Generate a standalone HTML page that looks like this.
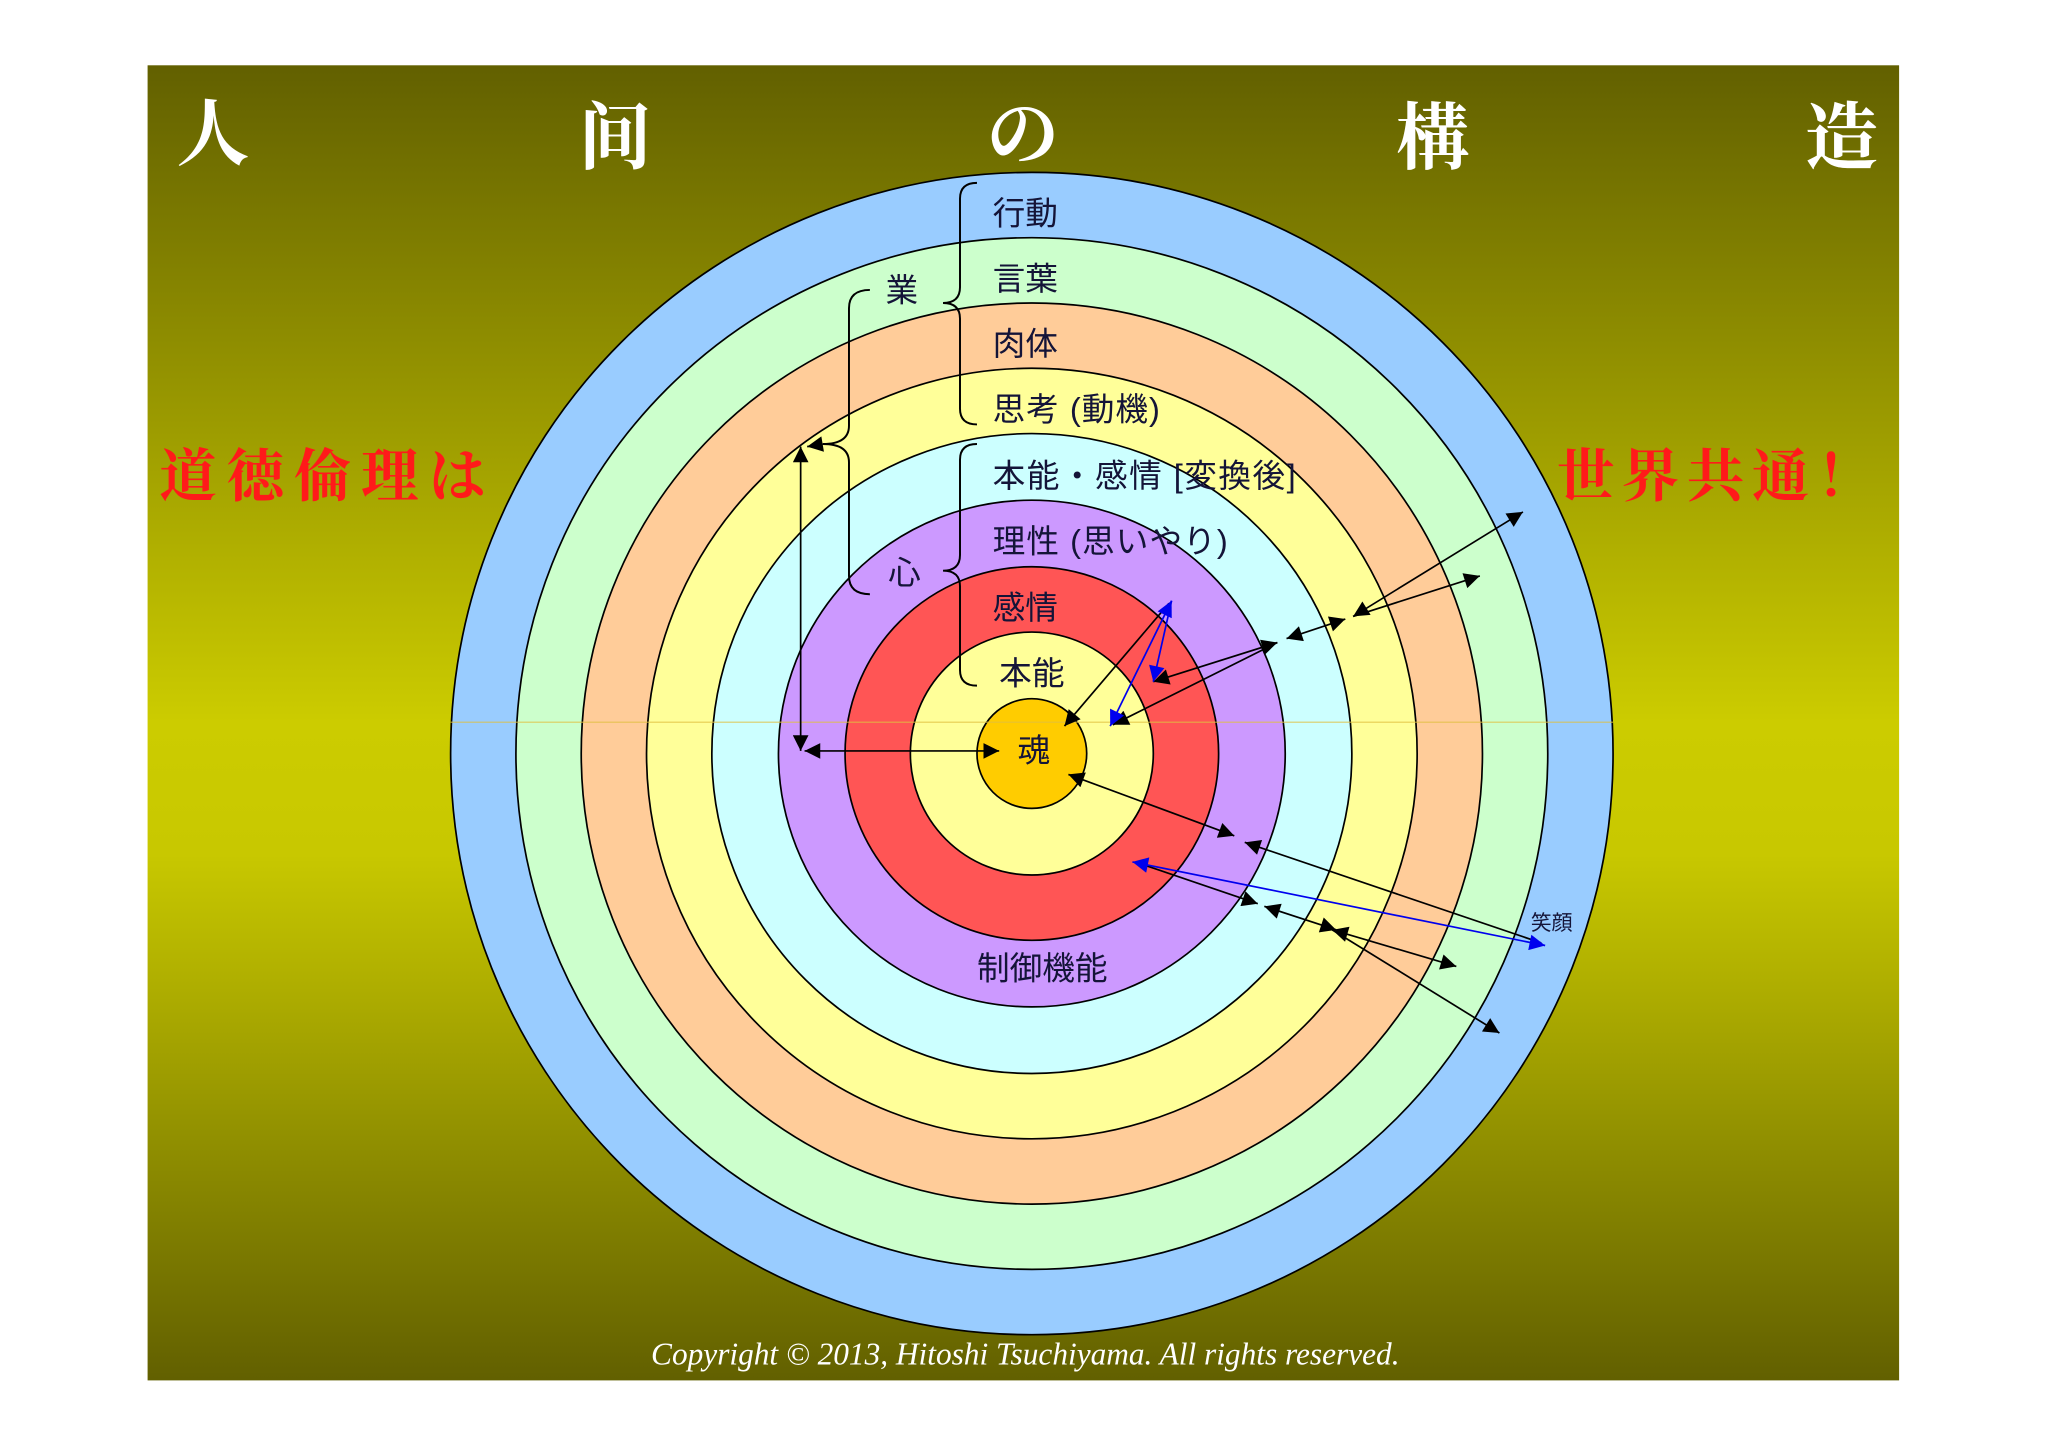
<!DOCTYPE html>
<html><head><meta charset="utf-8"><style>
html,body{margin:0;padding:0;background:#fff;}
svg{display:block;}
</style></head><body>
<svg width="2048" height="1447" viewBox="0 0 1568 1108" preserveAspectRatio="none" xmlns="http://www.w3.org/2000/svg">
<defs>
<linearGradient id="bg" x1="0" y1="0" x2="0" y2="1">
<stop offset="0" stop-color="#626000"/>
<stop offset="0.5" stop-color="#cccc00"/>
<stop offset="0.6" stop-color="#c8c800"/>
<stop offset="1" stop-color="#626000"/>
</linearGradient>
<marker id="b" viewBox="0 0 10 10" refX="10" refY="5" markerWidth="14" markerHeight="12" orient="auto-start-reverse" markerUnits="userSpaceOnUse"><path d="M0,0L10,5L0,10z" fill="#0000ee"/></marker>
<marker id="k" viewBox="0 0 10 10" refX="10" refY="5" markerWidth="14" markerHeight="12" orient="auto-start-reverse" markerUnits="userSpaceOnUse"><path d="M0,0L10,5L0,10z" fill="#000"/></marker>
</defs>
<rect x="0" y="0" width="1568" height="1108" fill="#fff"/>
<rect x="113" y="50" width="1341" height="1007" fill="url(#bg)"/>
<g stroke="#000" stroke-width="1.3">
<circle cx="790" cy="577" r="445" fill="#99ccff"/>
<circle cx="790" cy="577" r="395" fill="#ccffcc"/>
<circle cx="790" cy="577" r="345" fill="#ffcc99"/>
<circle cx="790" cy="577" r="295" fill="#ffff99"/>
<circle cx="790" cy="577" r="245" fill="#ccffff"/>
<circle cx="790" cy="577" r="194" fill="#cc99ff"/>
<circle cx="790" cy="577" r="143" fill="#ff5555"/>
<circle cx="790" cy="577" r="93" fill="#ffff99"/>
<circle cx="790" cy="577" r="42" fill="#ffcc00"/>
</g>
<line x1="345" y1="553" x2="1235" y2="553" stroke="#e0c040" stroke-width="0.8" opacity="0.8"/>
<g font-family="'Liberation Serif','Noto Serif CJK SC',serif" font-weight="bold" fill="#fff" font-size="56" text-anchor="middle">
<text x="163" y="122">人</text><text x="471" y="125">间</text><text x="783" y="122">の</text><text x="1097" y="125">構</text><text x="1410" y="125">造</text>
</g>
<g font-family="'Liberation Serif','Noto Serif CJK SC',serif" font-weight="bold" fill="#ff1a1a" font-size="44">
<text x="122" y="380" textLength="250">道徳倫理は</text>
<text x="1192" y="380" textLength="243">世界共通！</text>
</g>
<g font-family="'Liberation Sans','Noto Sans CJK JP',sans-serif" font-size="25" fill="#141438">
<text x="760" y="172">行動</text>
<text x="760" y="222">言葉</text>
<text x="760" y="272">肉体</text>
<text x="760" y="322" textLength="128">思考 (動機)</text>
<text x="760" y="373" textLength="232">本能・感情 [変換後]</text>
<text x="760" y="423" textLength="180">理性 (思いやり)</text>
<text x="760" y="474">感情</text>
<text x="765" y="524">本能</text>
<text x="779" y="583">魂</text>
<text x="748" y="750">制御機能</text>
<text x="678" y="231">業</text>
<text x="680" y="447">心</text>
<text x="1172" y="712" font-size="16">笑顔</text>
</g>
<g fill="none" stroke="#000" stroke-width="1.5">
<path d="M748,140 Q735,140 735,152 L735,220 Q735,232 722,232 Q735,232 735,244 L735,313 Q735,325 748,325"/>
<path d="M748,340 Q735,340 735,352 L735,425 Q735,437 722,437 Q735,437 735,449 L735,513 Q735,525 748,525"/>
<path d="M666,222 Q650,222 650,236 L650,326 Q650,340 630,340 Q650,340 650,354 L650,441 Q650,455 666,455"/>
</g>
<g stroke="#000" stroke-width="1.3" fill="none">
<line x1="613" y1="342" x2="613" y2="575" marker-start="url(#k)" marker-end="url(#k)"/>
<line x1="616" y1="575" x2="765" y2="575" marker-start="url(#k)" marker-end="url(#k)"/>
<line x1="618" y1="342" x2="630" y2="340" marker-start="url(#k)"/>
<line x1="815" y1="556" x2="895" y2="462" marker-start="url(#k)"/>
<line x1="883" y1="522" x2="978" y2="492" marker-start="url(#k)" marker-end="url(#k)"/>
<line x1="852" y1="555" x2="978" y2="492" marker-start="url(#k)"/>
<line x1="985" y1="489" x2="1030" y2="474" marker-start="url(#k)" marker-end="url(#k)"/>
<line x1="1036" y1="472" x2="1166" y2="392" marker-start="url(#k)" marker-end="url(#k)"/>
<line x1="1036" y1="472" x2="1133" y2="441" marker-end="url(#k)"/>
<line x1="818" y1="593" x2="945" y2="640" marker-start="url(#k)" marker-end="url(#k)"/>
<line x1="953" y1="645" x2="1180" y2="722" marker-start="url(#k)"/>
<line x1="875" y1="662" x2="963" y2="692" marker-end="url(#k)"/>
<line x1="968" y1="694" x2="1023" y2="712" marker-start="url(#k)" marker-end="url(#k)"/>
<line x1="1020" y1="712" x2="1115" y2="740" marker-start="url(#k)" marker-end="url(#k)"/>
<line x1="1020" y1="712" x2="1148" y2="791" marker-end="url(#k)"/>
</g>
<g stroke="#0000ee" stroke-width="1.3" fill="none">
<line x1="897" y1="460" x2="850" y2="556" marker-start="url(#b)" marker-end="url(#b)"/>
<line x1="897" y1="460" x2="883" y2="522" marker-end="url(#b)"/>
<line x1="867" y1="660" x2="1183" y2="724" marker-start="url(#b)" marker-end="url(#b)"/>
</g>
<text x="785" y="1045" text-anchor="middle" font-family="'Liberation Serif',serif" font-style="italic" font-size="24" fill="#fff">Copyright © 2013, Hitoshi Tsuchiyama. All rights reserved.</text>
</svg>
</body></html>
